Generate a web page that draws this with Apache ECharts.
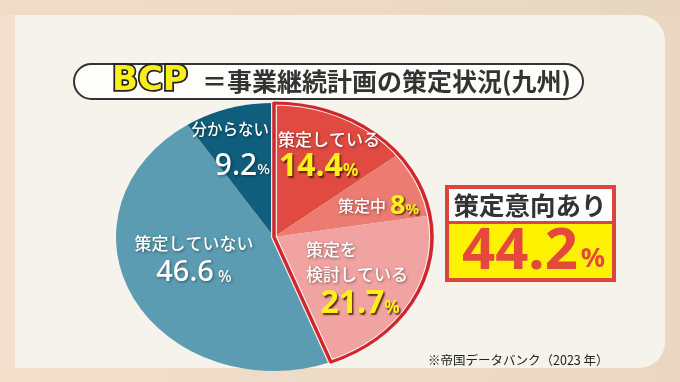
<!DOCTYPE html>
<html><head><meta charset="utf-8">
<script src="https://cdn.jsdelivr.net/npm/echarts@6/dist/echarts.min.js"></script>
<style>
html,body{margin:0;padding:0;width:680px;height:382px;overflow:hidden;background:#f1dfca}
.layer{position:absolute;left:0;top:0;width:680px;height:382px}
#pie{transform:scaleX(1.179);transform-origin:274px 237px}
</style></head><body>
<div id="bg" class="layer"></div>
<div id="pie" class="layer"></div>
<div id="fg" class="layer"></div>
<script>
// ---------- data ----------
const categories = ['策定している', '策定中', '策定を検討している', '策定していない', '分からない'];
const values = [14.4, 8, 21.7, 46.6, 9.2];
const planGroup = [0, 1, 2];           // slices inside the red outline
const planTotal = 44.2;                // value printed in the box
const titleMain = 'BCP';
const titleRest = '＝事業継続計画の策定状況(九州)';
const boxTitle = '策定意向あり';
const sourceNote = '※帝国データバンク（2023 年）';

// ---------- styles ----------
const sliceColors = ['#e04a40', '#ec7b71', '#f0a3a0', '#5b9cb2', '#0f5e7d'];
const JP = '"Noto Sans CJK JP", "Noto Sans", sans-serif';
const NUM = '"Noto Sans", "Noto Sans CJK JP", sans-serif';
const labelLayout = [
  { nameLines: ['策定している'], nx: 278, ny: 140, nAlign: 'left', nSize: 17, vx: 279, vy: 167, vAlign: 'left', vSize: 32, pSize: 17, yellow: true },
  { nameLines: ['策定中'], nx: 338, ny: 206, nAlign: 'left', nSize: 16, vx: 390, vy: 206, vAlign: 'left', vSize: 27, pSize: 15, yellow: true },
  { nameLines: ['策定を', '検討している'], nx: 306, ny: 262, nAlign: 'left', nSize: 17, vx: 360, vy: 304, vAlign: 'center', vSize: 32, pSize: 17, yellow: true },
  { nameLines: ['策定していない'], nx: 194, ny: 244, nAlign: 'center', nSize: 17, vx: 194, vy: 273, vAlign: 'center', vSize: 29, pSize: 16, yellow: false, gap: ' ' },
  { nameLines: ['分からない'], nx: 269, ny: 129, nAlign: 'right', nSize: 15.5, vx: 270, vy: 166, vAlign: 'right', vSize: 30, pSize: 15, yellow: false }
];

// ---------- background layer ----------
const bg = echarts.init(document.getElementById('bg'), null, { renderer: 'canvas' });
bg.setOption({
  animation: false,
  graphic: [
    { type: 'rect', shape: { x: 0, y: 0, width: 680, height: 382 },
      style: { fill: new echarts.graphic.LinearGradient(0, 0, 1, 0, [{ offset: 0, color: '#f3dfcb' }, { offset: 1, color: '#e9d7c2' }]) } },
    { type: 'rect', shape: { x: 0, y: 0, width: 680, height: 15 },
      style: { fill: new echarts.graphic.LinearGradient(0, 0, 1, 0, [{ offset: 0, color: '#f2dcc7' }, { offset: 1, color: '#e8d6c1' }]) } },
    { type: 'rect', shape: { x: 15, y: 15, width: 650, height: 353, r: [0, 26, 26, 0] }, style: { fill: '#f5f3ec' } },
    { type: 'rect', shape: { x: 74, y: 64, width: 509, height: 35, r: 17.5 }, style: { fill: '#fefefc', stroke: '#333', lineWidth: 2 } },
    { type: 'text', x: 112, y: 81, style: { text: titleMain, font: 'bold 34px "DejaVu Sans", sans-serif', fill: '#f7ee1a', stroke: '#222', lineWidth: 3.5, strokeFirst: true, align: 'left', verticalAlign: 'middle' } },
    { type: 'text', x: 202, y: 81, style: { text: titleRest, font: 'bold 25px ' + JP, fill: '#333', align: 'left', verticalAlign: 'middle' } },
    { type: 'rect', shape: { x: 445, y: 185, width: 171, height: 97 }, style: { fill: '#da463c' } },
    { type: 'rect', shape: { x: 449, y: 189, width: 163, height: 32 }, style: { fill: '#ffffff' } },
    { type: 'rect', shape: { x: 449, y: 224, width: 163, height: 54 }, style: { fill: '#fff200' } },
    { type: 'text', x: 530, y: 205, style: { text: boxTitle, font: 'bold 25.5px ' + JP, fill: '#333', align: 'center', verticalAlign: 'middle' } },
    { type: 'text', x: 462, y: 252, style: { text: '{n|' + planTotal.toFixed(1) + '}{p|%}', align: 'left', verticalAlign: 'middle',
        rich: { n: { font: 'bold 58px ' + NUM, fill: '#e5493c' }, p: { font: 'bold 27px ' + NUM, fill: '#e5493c', padding: [14, 0, 0, 3] } } } },
    { type: 'text', x: 428, y: 360, style: { text: sourceNote, font: '12.5px ' + JP, fill: '#222', align: 'left', verticalAlign: 'middle' } }
  ]
});

// ---------- pie layer (stretched horizontally into an ellipse) ----------
const pie = echarts.init(document.getElementById('pie'), null, { renderer: 'svg' });
const planSum = planGroup.reduce((s, i) => s + values[i], 0);
const restSum = values.reduce((s, v) => s + v, 0) - planSum;
pie.setOption({
  animation: false,
  series: [
    { type: 'pie', center: [274, 237], radius: 134, startAngle: 90, clockwise: true, silent: true,
      label: { show: false }, labelLine: { show: false },
      data: categories.map((c, i) => ({ name: c, value: values[i], itemStyle: { color: sliceColors[i], borderWidth: 0 } })) },
    { type: 'pie', center: [274, 237], radius: 134, startAngle: 90, clockwise: true, silent: true,
      label: { show: false }, labelLine: { show: false },
      data: [
        { name: 'plan', value: planSum, itemStyle: { color: 'transparent', borderColor: '#f7f2ee', borderWidth: 5 } },
        { name: 'rest', value: restSum, itemStyle: { color: 'transparent', borderWidth: 0 } }
      ] },
    { type: 'pie', center: [274, 237], radius: 134, startAngle: 90, clockwise: true, silent: true,
      label: { show: false }, labelLine: { show: false },
      data: [
        { name: 'plan', value: planSum, itemStyle: { color: 'transparent', borderColor: '#d0262c', borderWidth: 3 } },
        { name: 'rest', value: restSum, itemStyle: { color: 'transparent', borderWidth: 0 } }
      ] }
  ]
});

// ---------- label layer ----------
const fg = echarts.init(document.getElementById('fg'), null, { renderer: 'canvas' });
const whiteShadow = { textShadowColor: 'rgba(0,0,0,0.45)', textShadowBlur: 3, textShadowOffsetX: 1, textShadowOffsetY: 1 };
const yellowShadow = { textShadowColor: 'rgba(70,25,0,0.85)', textShadowBlur: 1.5, textShadowOffsetX: 1.5, textShadowOffsetY: 1.5 };
const labels = [];
categories.forEach((c, i) => {
  const L = labelLayout[i];
  labels.push({ type: 'text', x: L.nx, y: L.ny, style: Object.assign({
    text: L.nameLines.join('\n'), font: '500 ' + L.nSize + 'px ' + JP, fill: '#fff', lineHeight: 25,
    align: L.nAlign, verticalAlign: 'middle' }, whiteShadow) });
  const col = L.yellow ? '#fff01c' : '#ffffff';
  const sh = L.yellow ? yellowShadow : whiteShadow;
  labels.push({ type: 'text', x: L.vx, y: L.vy, style: {
    text: '{n|' + values[i] + '}{p|' + (L.gap || '') + '%}', align: L.vAlign, verticalAlign: 'middle',
    rich: {
      n: Object.assign({ font: (L.yellow ? 'bold ' : '500 ') + L.vSize + 'px ' + NUM, fill: col }, sh),
      p: Object.assign({ font: (L.yellow ? 'bold ' : '500 ') + L.pSize + 'px ' + NUM, fill: col, padding: [Math.round(L.vSize * 0.28), 0, 0, 0] }, sh)
    } } });
});
fg.setOption({ animation: false, graphic: labels });
</script>
</body></html>
